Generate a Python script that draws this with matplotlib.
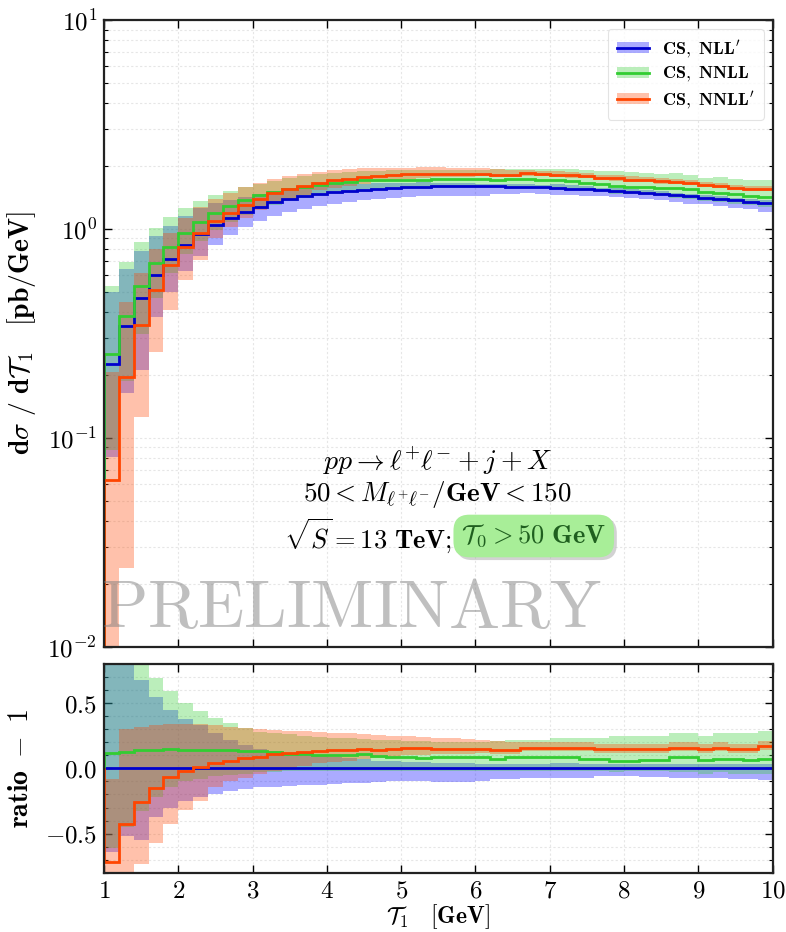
import numpy as np
import matplotlib
matplotlib.use("Agg")
import matplotlib.pyplot as plt
import matplotlib.ticker as mticker
import matplotlib.patheffects as pe
from matplotlib.patches import Patch
from matplotlib.lines import Line2D

plt.rcParams.update({
    "mathtext.fontset": "cm",
    "font.family": "DejaVu Serif",
    "axes.unicode_minus": True,
})

# =========================
# data (bin edges 1.0 ... 10.0, width 0.2)
# =========================
edges = np.linspace(1.0, 10.0, 46)

# NLL' central (pb/GeV) -- reference for the ratio panel
nll_p = [0.225, 0.342, 0.467, 0.60, 0.715, 0.84, 0.95, 1.05, 1.13, 1.21,
         1.28, 1.34, 1.39, 1.43, 1.47, 1.50, 1.52, 1.54, 1.56, 1.57,
         1.58, 1.59, 1.60, 1.60, 1.60, 1.60, 1.60, 1.59, 1.59, 1.58,
         1.57, 1.56, 1.55, 1.53, 1.52, 1.50, 1.49, 1.47, 1.45, 1.43,
         1.41, 1.39, 1.37, 1.35, 1.33]
nll_p_hi = [1.22, 0.88, 0.68, 0.55, 0.45, 0.38, 0.33, 0.27, 0.22, 0.18,
            0.15, 0.13, 0.12, 0.11, 0.10, 0.09, 0.08, 0.07, 0.06, 0.06,
            0.05, 0.05, 0.04, 0.04, 0.04, 0.03, 0.03, 0.03, 0.03, 0.03,
            0.04, 0.04, 0.03, 0.03, 0.03, 0.03, 0.03, 0.03, 0.03, 0.03,
            0.03, 0.03, 0.03, 0.03, 0.03]
nll_p_lo = [-0.64, -0.52, -0.55, -0.37, -0.30, -0.25, -0.22, -0.20, -0.17, -0.16,
            -0.145, -0.14, -0.135, -0.13, -0.125, -0.12, -0.115, -0.11, -0.105, -0.10,
            -0.10, -0.10, -0.105, -0.105, -0.105, -0.10, -0.08, -0.08, -0.07, -0.07,
            -0.07, -0.07, -0.07, -0.06, -0.06, -0.06, -0.065, -0.065, -0.075, -0.075,
            -0.07, -0.07, -0.08, -0.08, -0.09]

# NNLL: ratio to NLL' minus 1
nnll_r = [0.115, 0.126, 0.138, 0.144, 0.145, 0.144, 0.142, 0.14, 0.138, 0.135,
          0.133, 0.125, 0.113, 0.108, 0.10, 0.10, 0.105, 0.113, 0.095, 0.09,
          0.085, 0.082, 0.087, 0.087, 0.087, 0.087, 0.074, 0.087, 0.087, 0.087,
          0.087, 0.087, 0.074, 0.074, 0.056, 0.056, 0.067, 0.067, 0.087, 0.087,
          0.067, 0.074, 0.074, 0.067, 0.074]
nnll_hi = [1.36, 1.04, 0.85, 0.69, 0.59, 0.50, 0.44, 0.39, 0.35, 0.31,
           0.28, 0.27, 0.26, 0.25, 0.24, 0.235, 0.23, 0.225, 0.22, 0.22,
           0.21, 0.21, 0.20, 0.20, 0.20, 0.20, 0.21, 0.216, 0.216, 0.22,
           0.236, 0.236, 0.236, 0.236, 0.246, 0.246, 0.246, 0.246, 0.272, 0.272,
           0.246, 0.272, 0.272, 0.272, 0.285]
nnll_lo = [-0.61, -0.45, -0.33, -0.22, -0.14, -0.10, -0.08, -0.06, -0.05, -0.04,
           -0.03, -0.03, -0.02, -0.02, -0.02, -0.02, -0.02, -0.02, -0.02, -0.02,
           -0.02, -0.02, -0.02, -0.02, -0.02, -0.02, -0.02, -0.02, -0.02, -0.02,
           -0.02, -0.02, -0.02, -0.02, -0.03, -0.02, -0.02, -0.02, -0.03, -0.03,
           -0.04, -0.03, -0.04, -0.04, -0.04]

# NNLL': ratio to NLL' minus 1
nnll_p_r = [-0.72, -0.43, -0.26, -0.15, -0.065, -0.02, 0.008, 0.039, 0.059, 0.08,
            0.09, 0.108, 0.118, 0.126, 0.133, 0.138, 0.144, 0.15, 0.144, 0.15,
            0.156, 0.156, 0.151, 0.151, 0.151, 0.151, 0.138, 0.138, 0.159, 0.159,
            0.159, 0.159, 0.159, 0.149, 0.149, 0.149, 0.149, 0.149, 0.159, 0.159,
            0.146, 0.156, 0.146, 0.146, 0.169]
nnll_p_hi = [-0.08, 0.30, 0.32, 0.33, 0.34, 0.34, 0.34, 0.33, 0.32, 0.31,
             0.30, 0.295, 0.29, 0.285, 0.28, 0.275, 0.27, 0.265, 0.255, 0.25,
             0.245, 0.24, 0.235, 0.23, 0.225, 0.22, 0.21, 0.20, 0.20, 0.20,
             0.20, 0.20, 0.20, 0.19, 0.19, 0.19, 0.19, 0.19, 0.20, 0.20,
             0.19, 0.20, 0.19, 0.19, 0.21]
nnll_p_lo = [-0.98, -0.93, -0.73, -0.57, -0.43, -0.32, -0.25, -0.14, -0.10, -0.07,
             -0.04, -0.02, 0.0, 0.02, 0.04, 0.05, 0.06, 0.07, 0.08, 0.09,
             0.10, 0.10, 0.11, 0.11, 0.11, 0.12, 0.11, 0.11, 0.13, 0.13,
             0.13, 0.13, 0.13, 0.12, 0.12, 0.12, 0.12, 0.12, 0.13, 0.13,
             0.12, 0.13, 0.12, 0.12, 0.14]

labels = [r"$\mathbf{CS,\ NLL}'$", r"$\mathbf{CS,\ NNLL}$", r"$\mathbf{CS,\ NNLL}'$"]
line_colors = ["#0000cd", "#32cd32", "#ff4500"]
band_colors = ["blue", "limegreen", "orangered"]

ref = np.array(nll_p)
series = [
    (np.zeros(45), np.array(nll_p_lo), np.array(nll_p_hi)),
    (np.array(nnll_r), np.array(nnll_lo), np.array(nnll_hi)),
    (np.array(nnll_p_r), np.array(nnll_p_lo), np.array(nnll_p_hi)),
]

# =========================
# figure
# =========================
fig = plt.figure(figsize=(7.86, 9.32), dpi=100)
ax1 = fig.add_axes([0.1323, 0.3061, 0.8507, 0.6724])
ax2 = fig.add_axes([0.1323, 0.0636, 0.8507, 0.2239], sharex=ax1)

band_alpha = 0.33
for (r, lo, hi), bc in zip(series, band_colors):
    ax1.stairs(ref * (1 + hi), edges, baseline=ref * (1 + lo), fill=True,
               color=bc, alpha=band_alpha, lw=0)
    ax2.stairs(hi, edges, baseline=lo, fill=True, color=bc, alpha=band_alpha, lw=0)

for (r, lo, hi), lc in zip(series, line_colors):
    ax1.stairs(ref * (1 + r), edges, baseline=1e-6, color=lc, lw=2)
    ax2.stairs(r, edges, baseline=0, color=lc, lw=2)

# ---- top panel axes
ax1.set_yscale("log")
ax1.set_xlim(1, 10)
ax1.set_ylim(1e-2, 1e1)
ax1.yaxis.set_major_locator(mticker.LogLocator(base=10))
ax1.yaxis.set_minor_locator(mticker.LogLocator(base=10, subs=np.arange(2, 10)))
ax1.yaxis.set_major_formatter(mticker.FuncFormatter(
    lambda v, p: r"$\mathbf{10^{%d}}$" % int(round(np.log10(v)))))
ax1.yaxis.set_minor_formatter(mticker.NullFormatter())
ax1.set_ylabel(r"$\mathbf{d}\sigma\ /\ \mathbf{d}\mathcal{T}_1\quad\mathbf{[pb/GeV]}$",
               fontsize=20)
ax1.yaxis.set_label_coords(-0.098, 0.5)
plt.setp(ax1.get_xticklabels(), visible=False)

# ---- ratio panel axes
ax2.set_ylim(-0.8, 0.8)
ax2.yaxis.set_major_locator(mticker.FixedLocator([-0.5, 0.0, 0.5]))
ax2.yaxis.set_minor_locator(mticker.MultipleLocator(0.1))
ax2.yaxis.set_major_formatter(mticker.FuncFormatter(lambda v, p: r"$\mathbf{%.1f}$" % v))
ax2.set_ylabel(r"$\mathbf{ratio}\ -\ \mathbf{1}$", fontsize=20)
ax2.yaxis.set_label_coords(-0.105, 0.5)
ax2.xaxis.set_major_locator(mticker.MultipleLocator(1))
ax2.xaxis.set_major_formatter(mticker.FuncFormatter(lambda v, p: r"$\mathbf{%d}$" % v))
ax2.set_xlabel(r"$\mathcal{T}_1\quad\mathbf{[GeV]}$", fontsize=17, labelpad=0)

for ax in (ax1, ax2):
    ax.tick_params(which="both", direction="in", top=True, right=True, labelsize=18)
    ax.tick_params(which="major", length=6, width=1, pad=5)
    ax.tick_params(which="minor", length=3, width=0.8)
    ax.grid(which="both", axis="y", ls=(0, (2, 2)), color="#e6e6e6", lw=0.8)
    ax.grid(which="major", axis="x", ls=(0, (2, 2)), color="#e6e6e6", lw=0.8)
    ax.set_axisbelow(True)
    for s in ax.spines.values():
        s.set_linewidth(1.6)
        s.set_color("#222222")

# ---- legend
handles = [(Patch(facecolor=bc, alpha=band_alpha, lw=0), Line2D([0], [0], color=lc, lw=2))
           for bc, lc in zip(band_colors, line_colors)]
leg = ax1.legend(handles, labels, loc="upper right", fontsize=13, frameon=True,
                 fancybox=True, edgecolor="#dddddd", handlelength=1.8,
                 handleheight=0.55, borderaxespad=0.5, labelspacing=0.25,
                 handletextpad=0.7, borderpad=0.5)
leg.get_frame().set_linewidth(0.8)

# ---- annotations
fig.text(0.557, 0.5054, r"$pp \rightarrow \ell^{+}\ell^{-} + j + X$",
         ha="center", va="center", fontsize=20)
fig.text(0.557, 0.4690, r"$\mathbf{50} < M_{\ell^{+}\ell^{-}}/\mathbf{GeV} < \mathbf{150}$",
         ha="center", va="center", fontsize=19.5)
fig.text(0.575, 0.4249, r"$\sqrt{S} = \mathbf{13\ TeV;}$",
         ha="right", va="center", fontsize=19)
t = fig.text(0.587, 0.4249, r"$\mathcal{T}_0 > \mathbf{50\ GeV}$",
             ha="left", va="center", fontsize=19, color="#1f5f1f",
             bbox=dict(boxstyle="round,pad=0.3,rounding_size=0.6",
                       facecolor="#a8ee98", edgecolor="none"))
t.get_bbox_patch().set_path_effects([
    pe.withSimplePatchShadow(offset=(2, -2), shadow_rgbFace="gray", alpha=0.35)])

ax1.text(0.37, 0.03, r"$\mathrm{PRELIMINARY}$", transform=ax1.transAxes,
         ha="center", va="baseline", fontsize=49, color="gray", alpha=0.5, zorder=5)

fig.savefig("out.png", dpi=100)
